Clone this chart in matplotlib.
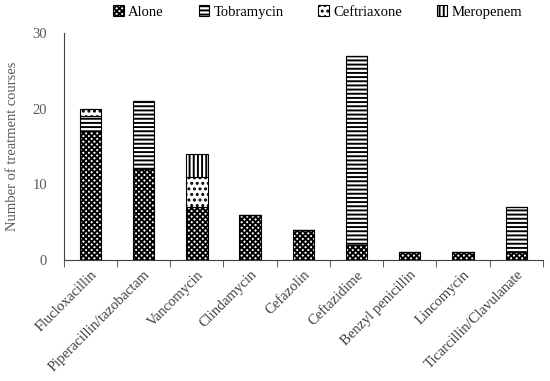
import matplotlib
matplotlib.use("Agg")
import matplotlib.pyplot as plt
import numpy as np

drugs = ["Flucloxacillin", "Piperacillin/tazobactam", "Vancomycin", "Clindamycin",
         "Cefazolin", "Ceftazidime", "Benzyl penicillin", "Lincomycin",
         "Ticarcillin/Clavulanate"]
alone = [17, 12, 7, 6, 4, 2, 1, 1, 1]
tobramycin = [2, 9, 0, 0, 0, 25, 0, 0, 6]
ceftriaxone = [1, 0, 4, 0, 0, 0, 0, 0, 0]
meropenem = [0, 0, 3, 0, 0, 0, 0, 0, 0]

plt.rcParams['font.family'] = ['Liberation Serif', 'DejaVu Serif']
plt.rcParams['hatch.linewidth'] = 1.4

fig = plt.figure(figsize=(5.5, 3.81), dpi=100)
ax = fig.add_axes([0.116, 0.318, 0.871, 0.595])

x = np.arange(len(drugs))
w = 0.4
series = [("Alone", alone, "xxxxxx"), ("Tobramycin", tobramycin, "----"),
          ("Ceftriaxone", ceftriaxone, "..."), ("Meropenem", meropenem, "||||")]
bottom = np.zeros(len(drugs))
for name, vals, hatch in series:
    vals = np.array(vals, dtype=float)
    ax.bar(x, vals, w, bottom=bottom, facecolor="white", edgecolor="black",
           hatch=hatch, linewidth=0.8, label=name)
    bottom += vals

ax.set_xlim(-0.5, len(drugs) - 0.5)
ax.set_ylim(0, 30)
ax.set_yticks([0, 10, 20, 30])
ax.tick_params(axis="y", length=0, labelsize=10.5, labelcolor="#595959", pad=12)
ax.set_xticks(x)
ax.set_xticklabels(drugs, rotation=45, ha="right", rotation_mode="anchor",
                   fontsize=10.5, color="#404040")
ax.tick_params(axis="x", which="major", length=0, pad=6)
ax.set_xticks(np.arange(-0.5, len(drugs)), minor=True)
ax.tick_params(axis="x", which="minor", length=5, color="#404040")
for s in ["top", "right"]:
    ax.spines[s].set_visible(False)
for s in ["left", "bottom"]:
    ax.spines[s].set_color("#404040")
ax.set_ylabel("Number of treatment courses", fontsize=10.5, color="#595959", labelpad=10)

ax.legend(loc="lower center", bbox_to_anchor=(0.53, 1.0), ncol=4, frameon=False,
          fontsize=10.5, handlelength=0.7, handleheight=0.7, columnspacing=2.4,
          handletextpad=0.3, borderaxespad=0.6)

fig.savefig("out.png", dpi=100)
